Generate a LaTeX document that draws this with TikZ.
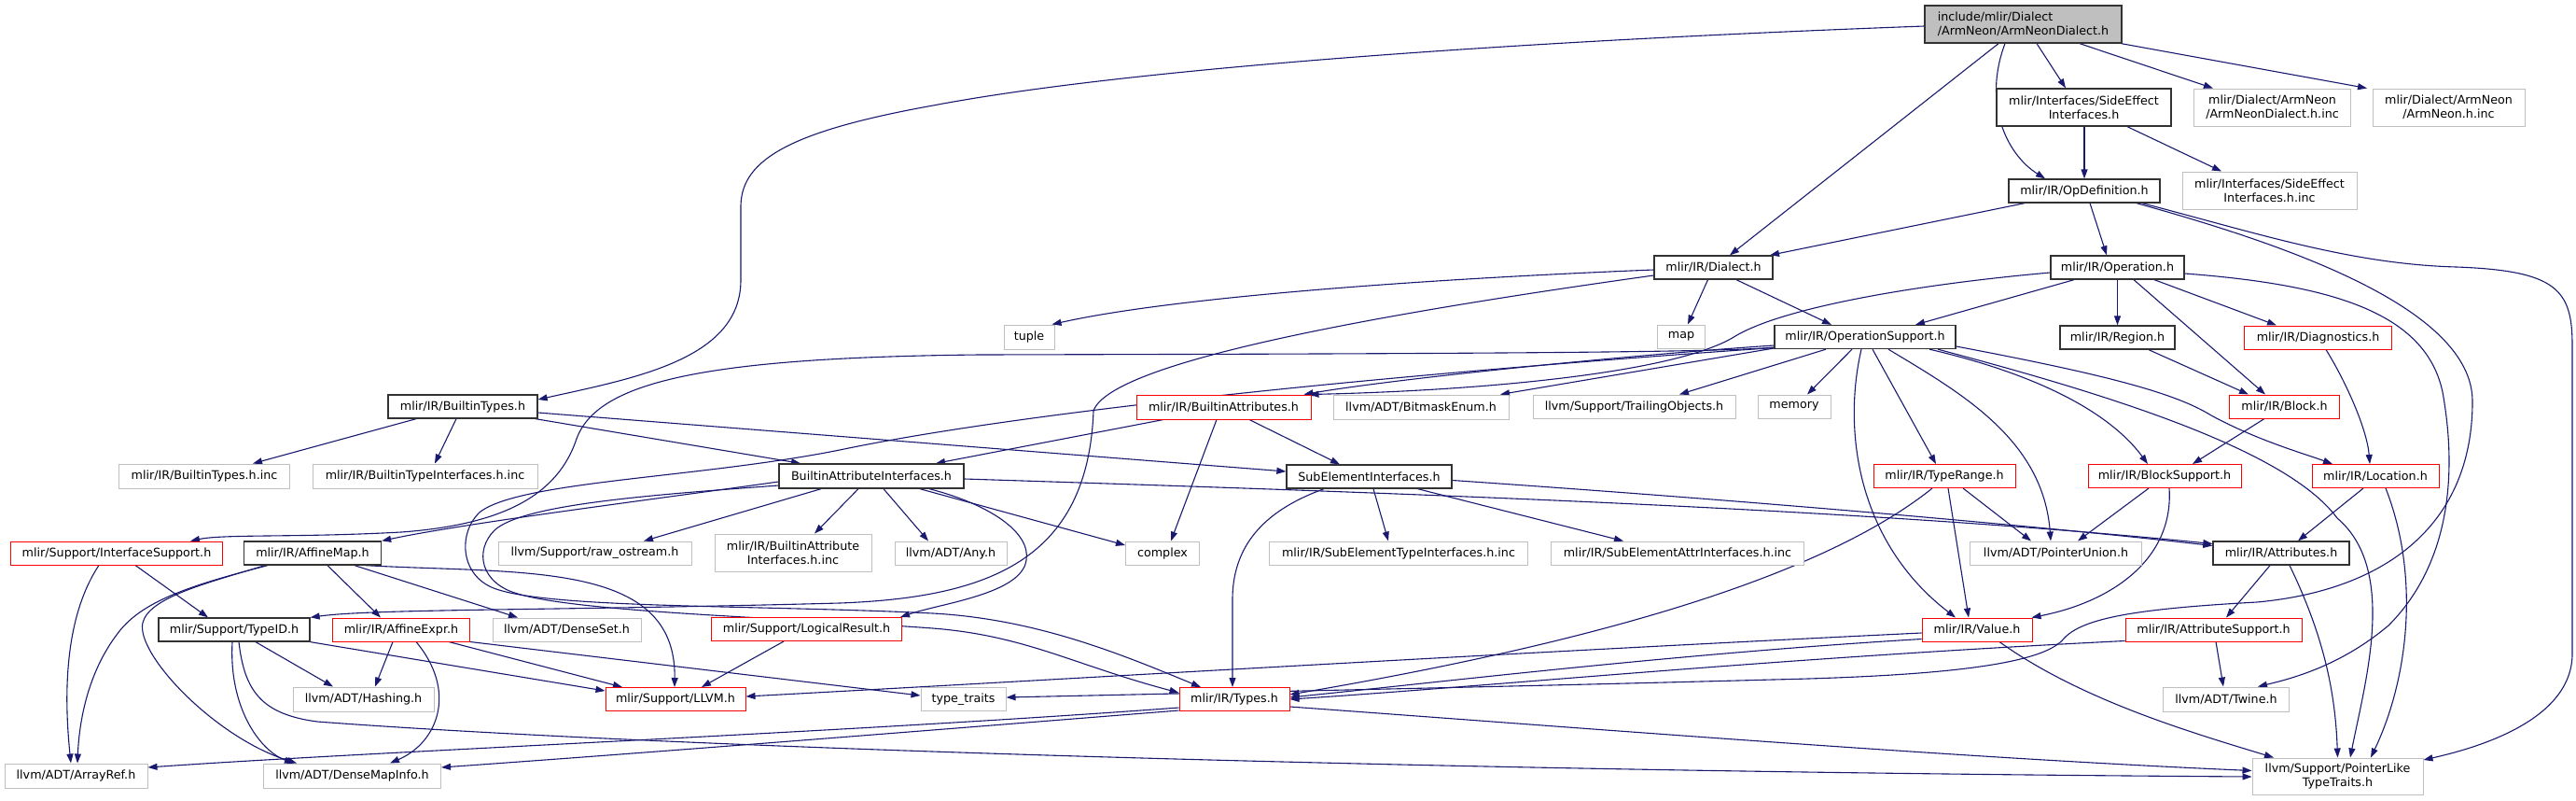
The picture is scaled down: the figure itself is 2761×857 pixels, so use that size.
\documentclass[tikz,border=0pt]{standalone}
\usepackage{fontspec}
\setmainfont{DejaVu Sans}
\usetikzlibrary{arrows.meta}
\definecolor{edgec}{RGB}{25,25,112}
\definecolor{redc}{RGB}{255,0,0}
\definecolor{gryc}{RGB}{191,191,191}
\definecolor{blkc}{RGB}{50,50,50}
\definecolor{rootc}{RGB}{191,191,191}
\pgfdeclarelayer{bg}
\pgfsetlayers{bg,main}
\newcommand{\nfont}{\fontsize{12.7}{15}\selectfont}
\tikzset{
  nb/.style={rectangle, line width=1pt, inner sep=0pt, font=\nfont, align=center, fill=white, text=black},
  blk/.style={nb, draw=blkc, line width=1.3pt},
  rdn/.style={nb, draw=redc},
  gyn/.style={nb, draw=gryc},
  rtn/.style={nb, draw=blkc, line width=1.3pt, fill=rootc, align=left},
  sz/.style 2 args={minimum width=#1pt, minimum height=#2pt},
  e/.style={draw=edgec, line width=1.1pt, -{Triangle[length=10pt,width=7pt]}},
}
\begin{document}
\begin{tikzpicture}[x=1pt,y=-1pt]
\useasboundingbox (0,0) rectangle (2761,857);
% nodes
\node[rtn, sz={211}{40}] (root) at (2168.5,26) {include/mlir/Dialect\\/ArmNeon/ArmNeonDialect.h};
\node[blk, sz={187}{40}] (sei) at (2233.5,115) {mlir/Interfaces/SideEffect\\Interfaces.h};
\node[gyn, sz={168}{40}] (anDinc) at (2435.5,115) {mlir/Dialect/ArmNeon\\/ArmNeonDialect.h.inc};
\node[gyn, sz={163}{40}] (anInc) at (2624.5,115) {mlir/Dialect/ArmNeon\\/ArmNeon.h.inc};
\node[blk, sz={162}{25}] (opdef) at (2234,204.5) {mlir/IR/OpDefinition.h};
\node[gyn, sz={187}{40}] (seiInc) at (2432.5,204) {mlir/Interfaces/SideEffect\\Interfaces.h.inc};
\node[blk, sz={127}{25}] (dialect) at (1836.5,286.5) {mlir/IR/Dialect.h};
\node[blk, sz={143}{25}] (operation) at (2269.5,286.5) {mlir/IR/Operation.h};
\node[gyn, sz={54}{26}] (tuple) at (1103,361) {tuple};
\node[gyn, sz={51}{25}] (map) at (1802,360.5) {map};
\node[blk, sz={194}{25}] (opsup) at (1999,361) {mlir/IR/OperationSupport.h};
\node[blk, sz={123}{25}] (region) at (2269.5,361.5) {mlir/IR/Region.h};
\node[rdn, sz={158}{25}] (diag) at (2484.5,361.5) {mlir/IR/Diagnostics.h};
\node[blk, sz={160}{25}] (btypes) at (496,435.5) {mlir/IR/BuiltinTypes.h};
\node[rdn, sz={187}{26}] (battrs) at (1311.5,436) {mlir/IR/BuiltinAttributes.h};
\node[gyn, sz={188}{26}] (bitmask) at (1523,436) {llvm/ADT/BitmaskEnum.h};
\node[gyn, sz={217}{25}] (trailing) at (1751.5,435.5) {llvm/Support/TrailingObjects.h};
\node[gyn, sz={78}{25}] (memory) at (1923,435.5) {memory};
\node[rdn, sz={118}{25}] (block) at (2448.5,435.5) {mlir/IR/Block.h};
\node[gyn, sz={183}{26}] (btinc) at (219,510) {mlir/IR/BuiltinTypes.h.inc};
\node[gyn, sz={241}{26}] (btiinc) at (455.5,510) {mlir/IR/BuiltinTypeInterfaces.h.inc};
\node[blk, sz={198}{26}] (baif) at (934,510) {BuiltinAttributeInterfaces.h};
\node[blk, sz={177}{25}] (subel) at (1467.5,510.5) {SubElementInterfaces.h};
\node[rdn, sz={152}{25}] (trange) at (2084,510) {mlir/IR/TypeRange.h};
\node[rdn, sz={164}{25}] (bsup) at (2320,510) {mlir/IR/BlockSupport.h};
\node[rdn, sz={136}{25}] (loc) at (2546,510) {mlir/IR/Location.h};
\node[rdn, sz={227}{25}] (ifsup) at (125,592.5) {mlir/Support/InterfaceSupport.h};
\node[blk, sz={147}{25}] (amap) at (335,592.5) {mlir/IR/AffineMap.h};
\node[gyn, sz={207}{25}] (raw) at (637.5,592.5) {llvm/Support/raw\_ostream.h};
\node[gyn, sz={168}{40}] (baifinc) at (850,592) {mlir/IR/BuiltinAttribute\\Interfaces.h.inc};
\node[gyn, sz={120}{25}] (any) at (1019,592.5) {llvm/ADT/Any.h};
\node[gyn, sz={79}{25}] (complex) at (1246,592.5) {complex};
\node[gyn, sz={277}{25}] (stinc) at (1499,592.5) {mlir/IR/SubElementTypeInterfaces.h.inc};
\node[gyn, sz={271}{25}] (sainc) at (1798,592.5) {mlir/IR/SubElementAttrInterfaces.h.inc};
\node[gyn, sz={184}{25}] (punion) at (2203.5,592.5) {llvm/ADT/PointerUnion.h};
\node[blk, sz={146}{25}] (attrs) at (2445,592.5) {mlir/IR/Attributes.h};
\node[blk, sz={162}{25}] (typeid) at (251,674.5) {mlir/Support/TypeID.h};
\node[rdn, sz={147}{25}] (aexpr) at (430,674.5) {mlir/IR/AffineExpr.h};
\node[gyn, sz={159}{25}] (dset) at (607.5,674.5) {llvm/ADT/DenseSet.h};
\node[rdn, sz={204}{25}] (lres) at (864.5,674) {mlir/Support/LogicalResult.h};
\node[rdn, sz={118}{25}] (value) at (2119,674.5) {mlir/IR/Value.h};
\node[rdn, sz={189}{25}] (asup) at (2372.5,674.5) {mlir/IR/AttributeSupport.h};
\node[gyn, sz={151}{26}] (hash) at (389.5,749) {llvm/ADT/Hashing.h};
\node[rdn, sz={150}{25}] (llvmh) at (724,749) {mlir/Support/LLVM.h};
\node[gyn, sz={91}{25}] (ttraits) at (1032.5,749) {type\_traits};
\node[rdn, sz={118}{25}] (types) at (1323,749) {mlir/IR/Types.h};
\node[gyn, sz={135}{26}] (twine) at (2386,749) {llvm/ADT/Twine.h};
\node[gyn, sz={153}{26}] (aref) at (81.5,831) {llvm/ADT/ArrayRef.h};
\node[gyn, sz={190}{26}] (dmi) at (377.5,831) {llvm/ADT/DenseMapInfo.h};
\node[gyn, sz={183}{39}] (plike) at (2505.5,831.5) {llvm/Support/PointerLike\\TypeTraits.h};
% edges
\begin{pgfonlayer}{bg}
% root
\draw[e] ([yshift=-2pt]root.west) .. controls (1600,45) and (1200,75) .. (1000,113) .. controls (850,140) and (795,170) .. (794,220) -- (794,300) .. controls (794,385) and (680,405) .. ([yshift=7.5pt]btypes.east);
\draw[e] ([xshift=-26.5pt]root.south) -- ([xshift=17.5pt]dialect.north);
\draw[e] ([xshift=-19.5pt]root.south) .. controls (2125,110) and (2150,165) .. ([xshift=-42pt]opdef.north);
\draw[e] ([xshift=14.5pt]root.south) -- ([xshift=-19.5pt]sei.north);
\draw[e] ([xshift=60.5pt]root.south) -- ([xshift=-63.5pt]anDinc.north);
\draw[e] ([xshift=105pt]root.south) -- ([xshift=-87.5pt]anInc.north);
% side effect
\draw[e] ([xshift=0.5pt]sei.south) -- (opdef.north);
\draw[e] ([xshift=46.5pt]sei.south) -- ([xshift=-51.5pt]seiInc.north);
% opdef
\draw[e] ([xshift=-64pt]opdef.south) -- ([xshift=60.5pt]dialect.north);
\draw[e] ([xshift=6pt]opdef.south) -- ([xshift=-11.5pt]operation.north);
\draw[e] ([xshift=62pt]opdef.south) .. controls (2420,250) and (2520,283) .. (2633,286) .. controls (2740,290) and (2757,310) .. (2757,370) -- (2757,700) .. controls (2757,770) and (2660,800) .. ([yshift=17.5pt]plike.east);
\draw[e] ([xshift=56pt]opdef.south) .. controls (2450,262) and (2650,330) .. (2650,430) .. controls (2650,560) and (2560,632) .. (2419,645) .. controls (2290,652) and (2232,662) .. (2212,684) .. controls (2190,712) and (2080,724) .. (1900,728) .. controls (1600,736) and (1300,742) .. ([yshift=2pt]ttraits.east);
% dialect
\draw[e] ([yshift=-2.5pt]dialect.west) .. controls (1500,300) and (1250,320) .. ([xshift=-3pt]tuple.north east);
\draw[e] ([xshift=-6pt]dialect.south) -- ([xshift=7pt]map.north);
\draw[e] ([xshift=24.5pt]dialect.south) -- ([xshift=-36pt]opsup.north);
\draw[e] ([yshift=-8.5pt]dialect.west) .. controls (1450,340) and (1190,390) .. (1172,440) .. controls (1166,600) and (1060,640) .. (900,646) .. controls (600,654) and (400,652) .. (typeid.north east);
% operation
\draw[e] ([yshift=-5.5pt]operation.west) .. controls (2050,305) and (1910,330) .. (1860,360) .. controls (1800,398) and (1600,418) .. ([xshift=-2pt]battrs.north east);
\draw[e] ([xshift=-46.5pt]operation.south) -- ([xshift=54pt]opsup.north);
\draw[e] (operation.south) -- (region.north);
\draw[e] ([xshift=17.5pt]operation.south) -- ([xshift=-20.5pt]block.north);
\draw[e] ([xshift=39.5pt]operation.south) -- ([xshift=-44.5pt]diag.north);
\draw[e] ([yshift=-6.5pt]operation.east) .. controls (2500,305) and (2600,335) .. (2618,420) .. controls (2636,520) and (2620,610) .. (2560,670) .. controls (2510,712) and (2460,726) .. ([xshift=34pt]twine.north);
% operation support
\draw[e] ([yshift=-11pt]opsup.west) .. controls (1850,378) and (1500,379) .. (1050,380) .. controls (750,383) and (640,410) .. (618,470) .. controls (598,530) and (540,562) .. (430,570) .. controls (320,576) and (240,572) .. ([xshift=79pt]ifsup.north);
\draw[e] ([yshift=-9pt]opsup.west) .. controls (1750,380) and (1500,405) .. ([xshift=-8pt]battrs.north east);
\draw[e] ([yshift=-12pt]opsup.west) -- ([xshift=85pt]bitmask.north);
\draw[e] ([xshift=-42pt]opsup.south) -- ([xshift=48.5pt]trailing.north);
\draw[e] ([xshift=-14pt]opsup.south) -- ([xshift=14pt]memory.north);
\draw[e] ([xshift=8pt]opsup.south) -- ([xshift=-9pt]trange.north);
\draw[e] ([xshift=-4pt]opsup.south) .. controls (1975,460) and (1990,580) .. ([xshift=-23pt]value.north);
\draw[e] ([yshift=-11.5pt]opsup.west) .. controls (1500,400) and (1100,440) .. (900,482) .. controls (750,512) and (560,515) .. (515,548) .. controls (490,570) and (492,620) .. (535,632) .. controls (600,652) and (820,648) .. (1000,657) .. controls (1110,663) and (1200,700) .. ([xshift=-36pt]types.north);
\draw[e] ([xshift=69pt]opsup.south) .. controls (2180,400) and (2260,440) .. ([xshift=-18pt]bsup.north);
\draw[e] ([xshift=25pt]opsup.south) .. controls (2100,420) and (2190,470) .. ([xshift=-5.5pt]punion.north);
\draw[e] ([xshift=78pt]opsup.south) .. controls (2250,420) and (2450,480) .. (2505,555) .. controls (2570,610) and (2535,730) .. ([xshift=13.5pt]plike.north);
\draw[e] ([yshift=-10pt]opsup.east) .. controls (2250,400) and (2330,420) .. (2370,445) .. controls (2420,472) and (2470,486) .. ([xshift=-46pt]loc.north);
% region, diagnostics, block
\draw[e] ([xshift=33.5pt]region.south) -- ([xshift=-38.5pt]block.north);
\draw[e] ([xshift=8.5pt]diag.south) .. controls (2515,410) and (2537,460) .. ([xshift=-6pt]loc.north);
\draw[e] ([xshift=-21.5pt]block.south) -- ([xshift=30pt]bsup.north);
% builtin types
\draw[e] ([xshift=-50pt]btypes.south) -- ([xshift=52pt]btinc.north);
\draw[e] ([xshift=-7pt]btypes.south) -- ([xshift=10.5pt]btiinc.north);
\draw[e] ([xshift=78pt]btypes.south) -- ([xshift=-76pt]baif.north);
\draw[e] ([yshift=-6.5pt]btypes.east) -- ([yshift=5.5pt]subel.west);
% builtin attributes
\draw[e] ([xshift=-64.5pt]battrs.south) -- ([xshift=69pt]baif.north);
\draw[e] ([xshift=27.5pt]battrs.south) -- ([xshift=-31.5pt]subel.north);
\draw[e] ([xshift=-7.5pt]battrs.south) -- ([xshift=9pt]complex.north);
% builtin attribute interfaces
\draw[e] ([yshift=-6pt]baif.west) .. controls (700,535) and (500,560) .. (amap.north east);
\draw[e] ([yshift=-10pt]baif.west) .. controls (700,530) and (560,540) .. (530,568) .. controls (508,590) and (515,625) .. (555,636) .. controls (620,656) and (850,662) .. (1000,673) .. controls (1100,681) and (1150,712) .. ([yshift=7pt]types.west);
\draw[e] ([xshift=-54pt]baif.south) -- ([xshift=52.5pt]raw.north);
\draw[e] ([xshift=-14pt]baif.south) -- ([xshift=23pt]baifinc.north);
\draw[e] ([xshift=13pt]baif.south) -- ([xshift=-24pt]any.north);
\draw[e] ([xshift=52pt]baif.south) -- ([yshift=8.5pt]complex.west);
\draw[e] ([xshift=62pt]baif.south) .. controls (1060,540) and (1105,570) .. (1100,600) .. controls (1095,636) and (1010,646) .. ([xshift=-2pt]lres.north east);
\draw[e] ([yshift=-3pt]baif.east) .. controls (1500,528) and (2000,545) .. ([yshift=10pt]attrs.west);
% sub element interfaces
\draw[e] ([yshift=-4pt]subel.east) .. controls (1900,538) and (2200,565) .. ([yshift=8pt]attrs.west);
\draw[e] ([xshift=-48.5pt]subel.south) .. controls (1360,545) and (1322,580) .. (1321,640) -- ([xshift=-2pt]types.north);
\draw[e] ([xshift=4.5pt]subel.south) -- ([xshift=-11pt]stinc.north);
\draw[e] ([xshift=52pt]subel.south) -- ([xshift=-58pt]sainc.north);
% type range, block support, location
\draw[e] ([xshift=20pt]trange.south) -- ([xshift=-26.5pt]punion.north);
\draw[e] ([xshift=4pt]trange.south) -- ([xshift=-9pt]value.north);
\draw[e] ([xshift=-13pt]trange.south) .. controls (1950,620) and (1700,690) .. ([yshift=5pt]types.east);
\draw[e] ([xshift=-17pt]bsup.south) -- ([xshift=23.5pt]punion.north);
\draw[e] ([xshift=5pt]bsup.south) .. controls (2330,600) and (2262,645) .. ([xshift=-1pt]value.north east);
\draw[e] ([xshift=-13pt]loc.south) -- ([xshift=18pt]attrs.north);
\draw[e] ([xshift=11pt]loc.south) .. controls (2595,620) and (2580,730) .. ([xshift=35.5pt]plike.north);
% attributes
\draw[e] ([xshift=-12pt]attrs.south) -- ([xshift=13.5pt]asup.north);
\draw[e] ([xshift=9pt]attrs.south) .. controls (2490,680) and (2503,740) .. (plike.north);
% value, attribute support
\draw[e] ([yshift=-3.5pt]value.west) .. controls (1600,700) and (1100,730) .. ([yshift=3pt]llvmh.east);
\draw[e] ([yshift=-10pt]value.west) .. controls (1800,700) and (1550,730) .. ([yshift=2pt]types.east);
\draw[e] ([xshift=24pt]value.south) .. controls (2230,750) and (2350,785) .. ([xshift=-68.5pt]plike.north);
\draw[e] ([yshift=-12pt]asup.west) .. controls (1900,705) and (1600,735) .. (types.east);
\draw[e] ([xshift=2.5pt]asup.south) -- ([xshift=-3pt]twine.north);
% interface support, affine map
\draw[e] ([xshift=-19pt]ifsup.south) .. controls (70,660) and (68,740) .. ([xshift=-5.5pt]aref.north);
\draw[e] ([xshift=20pt]ifsup.south) -- ([xshift=-28pt]typeid.north);
\draw[e] ([xshift=-48pt]amap.south) .. controls (200,628) and (150,645) .. (125,680) .. controls (95,720) and (85,770) .. ([xshift=1.5pt]aref.north);
\draw[e] ([xshift=-51pt]amap.south) .. controls (220,625) and (160,640) .. (153,667) .. controls (145,700) and (230,790) .. ([xshift=-59.5pt]dmi.north);
\draw[e] ([xshift=16pt]amap.south) -- ([xshift=-22pt]aexpr.north);
\draw[e] ([xshift=45pt]amap.south) -- ([xshift=-52.5pt]dset.north);
\draw[e] ([xshift=57pt]amap.south) .. controls (560,615) and (725,600) .. ([xshift=-1pt]llvmh.north);
% type id
\draw[e] ([xshift=-2pt]typeid.south) .. controls (245,760) and (280,805) .. ([xshift=-62.5pt]dmi.north);
\draw[e] ([xshift=5pt]typeid.south) .. controls (262,740) and (280,765) .. (340,773) .. controls (700,800) and (1500,826) .. ([yshift=-0.5pt]plike.west);
\draw[e] ([xshift=23pt]typeid.south) -- ([xshift=-32.5pt]hash.north);
\draw[e] (typeid.south east) -- ([yshift=9pt]llvmh.west);
% affine expr
\draw[e] ([xshift=-9pt]aexpr.south) -- ([xshift=12.5pt]hash.north);
\draw[e] ([xshift=16pt]aexpr.south) .. controls (490,740) and (470,795) .. ([xshift=40.5pt]dmi.north);
\draw[e] ([xshift=51pt]aexpr.south) -- ([xshift=-57pt]llvmh.north);
\draw[e] (aexpr.south east) -- ([yshift=4pt]ttraits.west);
% logical result
\draw[e] ([xshift=-24.5pt]lres.south) -- ([xshift=28pt]llvmh.north);
% types
\draw[e] ([yshift=-9pt]types.west) .. controls (900,785) and (400,805) .. ([yshift=9pt]aref.east);
\draw[e] ([yshift=-12pt]types.west) .. controls (1000,782) and (700,806) .. ([yshift=9pt]dmi.east);
\draw[e] ([yshift=-8pt]types.east) .. controls (1700,780) and (2100,812) .. ([yshift=6pt]plike.west);
\end{pgfonlayer}
\end{tikzpicture}
\end{document}
